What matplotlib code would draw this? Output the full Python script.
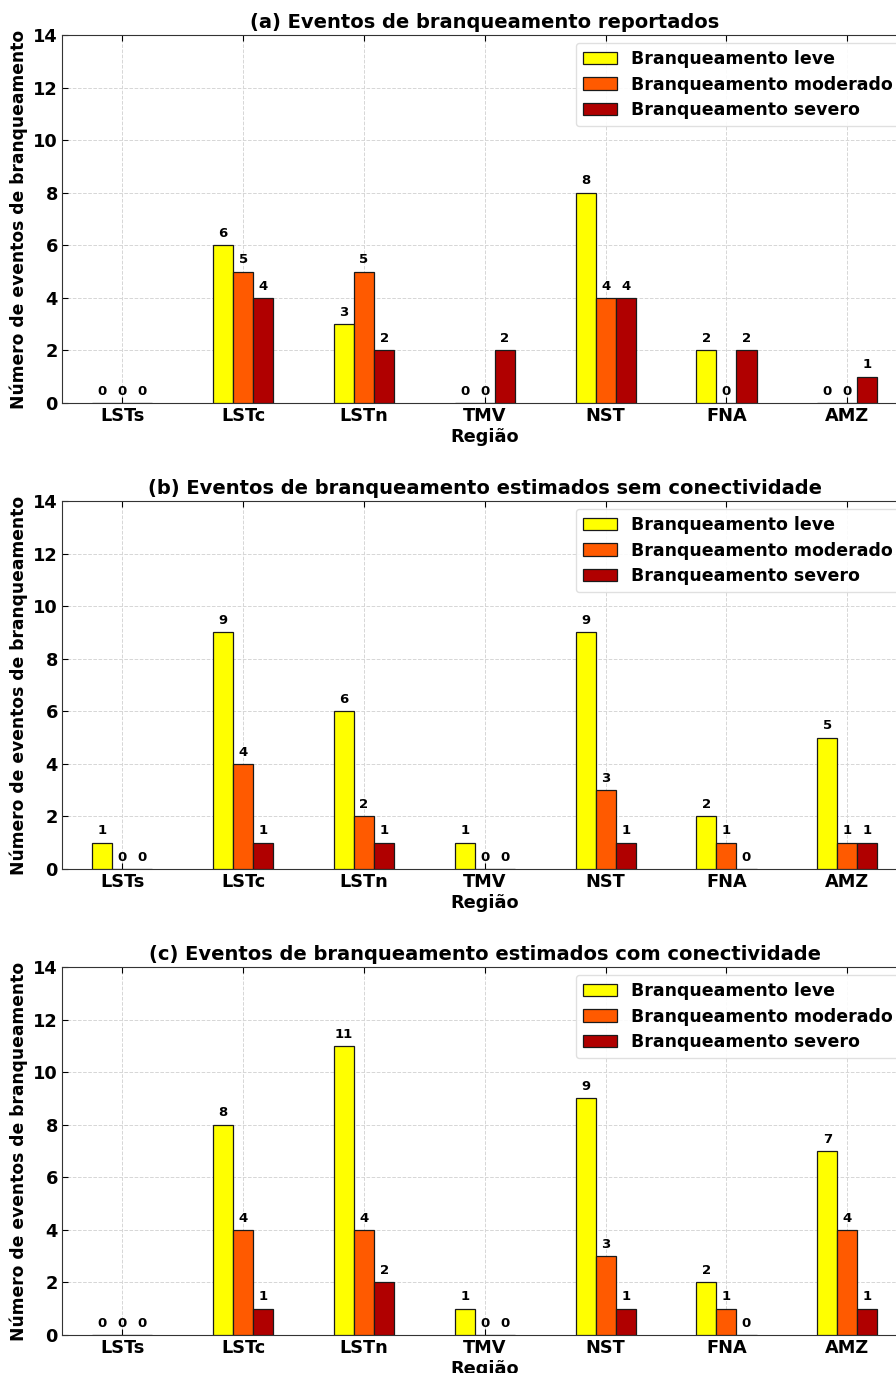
import numpy as np
import matplotlib
matplotlib.use('Agg')
import matplotlib.pyplot as plt

# regions and bleaching counts
regions = ['LSTs', 'LSTc', 'LSTn', 'TMV', 'NST', 'FNA', 'AMZ']
titles = ['(a) Eventos de branqueamento reportados',
          '(b) Eventos de branqueamento estimados sem conectividade',
          '(c) Eventos de branqueamento estimados com conectividade']

leve_a = [0, 6, 3, 0, 8, 2, 0]
moderado_a = [0, 5, 5, 0, 4, 0, 0]
severo_a = [0, 4, 2, 2, 4, 2, 1]

leve_b = [1, 9, 6, 1, 9, 2, 5]
moderado_b = [0, 4, 2, 0, 3, 1, 1]
severo_b = [0, 1, 1, 0, 1, 0, 1]

leve_c = [0, 8, 11, 1, 9, 2, 7]
moderado_c = [0, 4, 4, 0, 3, 1, 4]
severo_c = [0, 1, 2, 0, 1, 0, 1]

series_labels = ['Branqueamento leve', 'Branqueamento moderado', 'Branqueamento severo']
colors = ['#ffff00', '#ff5a00', '#b00000']

panels = [(leve_a, moderado_a, severo_a),
          (leve_b, moderado_b, severo_b),
          (leve_c, moderado_c, severo_c)]

plt.rcParams['font.family'] = 'DejaVu Sans'
plt.rcParams['font.weight'] = 'bold'

fig = plt.figure(figsize=(8.96, 13.73), dpi=100)
bottoms = [0.7065, 0.3671, 0.0277]

x = np.arange(len(regions))
w = 0.166

for k, (data, bot) in enumerate(zip(panels, bottoms)):
    ax = fig.add_axes([0.0692, bot, 0.9438, 0.268])
    for i, vals in enumerate(data):
        offs = (i - 1) * w
        ax.bar(x + offs, vals, w, color=colors[i], edgecolor='#1a1a1a',
               linewidth=0.9, label=series_labels[i], zorder=3)
        for xi, v in zip(x + offs, vals):
            ax.text(xi, v + 0.2, str(v), ha='center', va='bottom',
                    fontsize=9.5, fontweight='bold', zorder=4)
    ax.set_xlim(-0.5, 6.5)
    ax.set_ylim(0, 14)
    ax.set_yticks(range(0, 15, 2))
    ax.set_xticks(x)
    ax.set_xticklabels(regions)
    ax.tick_params(axis='both', direction='in', length=4, labelsize=12.8,
                   top=True, right=True, pad=3)
    for lab in ax.get_xticklabels() + ax.get_yticklabels():
        lab.set_fontweight('bold')
    ax.grid(True, linestyle='--', color='#d6d6d6', linewidth=0.7, zorder=0)
    for sp in ax.spines.values():
        sp.set_color('#333333')
    ax.set_title(titles[k], fontsize=14, fontweight='bold', pad=5)
    ax.set_xlabel('Região', fontsize=12.8, fontweight='bold', labelpad=2)
    ax.set_ylabel('Número de eventos de branqueamento', fontsize=12.3,
                  fontweight='bold', labelpad=4)
    ax.legend(loc='upper right', prop={'size': 12.5, 'weight': 'bold'},
              handlelength=2.0, handletextpad=0.8, labelspacing=0.45,
              borderpad=0.4, borderaxespad=0.45, fancybox=True,
              framealpha=0.9, edgecolor='#dddddd')

fig.savefig('out.png', dpi=100)
